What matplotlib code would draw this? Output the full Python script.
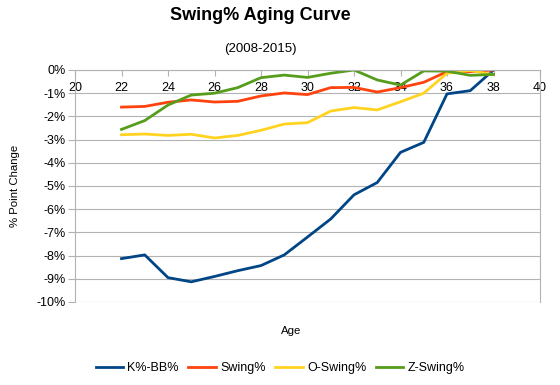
import matplotlib
matplotlib.use("Agg")
import matplotlib.pyplot as plt
from matplotlib.ticker import FuncFormatter

plt.rcParams['font.family'] = ['Liberation Sans', 'DejaVu Sans']

# Data
ages = [22, 23, 24, 25, 26, 27, 28, 29, 30, 31, 32, 33, 34, 35, 36, 37, 38]
k_bb = [-8.13, -7.97, -8.95, -9.13, -8.9, -8.65, -8.43, -7.97, -7.2, -6.42,
        -5.38, -4.85, -3.55, -3.12, -1.03, -0.89, 0.0]
swing = [-1.6, -1.57, -1.39, -1.29, -1.38, -1.35, -1.12, -0.99, -1.06, -0.76,
         -0.75, -0.95, -0.76, -0.53, -0.07, -0.07, 0.0]
o_swing = [-2.79, -2.76, -2.82, -2.77, -2.93, -2.82, -2.6, -2.33, -2.27, -1.77,
           -1.62, -1.72, -1.37, -1.0, -0.14, -0.02, -0.2]
z_swing = [-2.56, -2.18, -1.51, -1.08, -1.0, -0.76, -0.33, -0.22, -0.32, -0.14,
           0.0, -0.43, -0.65, -0.04, -0.05, -0.23, -0.19]

series = [
    ("K%-BB%", k_bb, "#004586"),
    ("Swing%", swing, "#ff420e"),
    ("O-Swing%", o_swing, "#ffd320"),
    ("Z-Swing%", z_swing, "#579d1c"),
]

fig = plt.figure(figsize=(5.6, 3.85), dpi=100)
ax = fig.add_axes([75 / 560, 1 - 302 / 385, 465 / 560, 232 / 385])

for name, vals, col in series:
    ax.plot(ages, vals, color=col, lw=2.0, label=name, solid_joinstyle='round')

ax.set_xlim(20, 40)
ax.set_ylim(-10, 0)
ax.set_xticks(range(20, 41, 2))
ax.set_yticks(range(-10, 1))
ax.yaxis.set_major_formatter(FuncFormatter(lambda v, p: f"{int(v)}%"))

# x axis crosses at 0 (top of plot)
ax.spines['bottom'].set_position(('data', 0))
ax.spines['top'].set_visible(False)
for s in ['bottom', 'left', 'right']:
    ax.spines[s].set_color('#b3b3b3')
ax.grid(axis='y', color='#b3b3b3', lw=0.8)
ax.set_axisbelow(True)
ax.tick_params(axis='x', direction='out', length=4, color='#b3b3b3',
               labelsize=9, pad=4.5)
ax.tick_params(axis='y', direction='out', length=5, color='#b3b3b3',
               labelsize=9, pad=1.5)

fig.text(15 / 560, 1 - 186 / 385, '% Point Change', rotation=90,
         ha='center', va='center', fontsize=8.2)
fig.text(291 / 560, 1 - 331 / 385, 'Age', ha='center', va='center', fontsize=8.2)

fig.text(260 / 560, 1 - 16 / 385, 'Swing% Aging Curve', ha='center', va='center',
         fontsize=13, fontweight='bold')
fig.text(260 / 560, 1 - 49 / 385, '(2008-2015)', ha='center', va='center',
         fontsize=9.5)

fig.legend(loc='center', bbox_to_anchor=(0.5, 1 - 368 / 385), ncol=4,
           frameon=False, fontsize=9, handlelength=2.2, columnspacing=0.75,
           handletextpad=0.35)

fig.savefig('out.png', dpi=100)
